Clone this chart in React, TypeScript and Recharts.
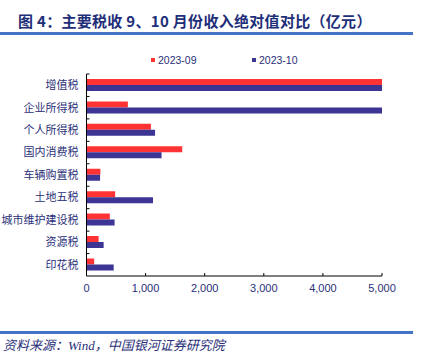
import { BarChart, Bar, XAxis, YAxis, Legend } from "recharts"

// Tax categories, top to bottom as in the figure
const CATEGORIES = [
  "增值税",
  "企业所得税",
  "个人所得税",
  "国内消费税",
  "车辆购置税",
  "土地五税",
  "城市维护建设税",
  "资源税",
  "印花税",
]

// 亿元 — VAT and CIT run past the 5,000 axis limit and are clipped
const SEP_2023 = [5100, 700, 1090, 1620, 235, 485, 395, 205, 130]
const OCT_2023 = [8800, 8500, 1160, 1270, 230, 1125, 475, 290, 460]

const X_TICKS = [0, 1000, 2000, 3000, 4000, 5000]

const RED = "#FF3333"
const BLUE = "#3D3594"
const NAVY = "#2A2F78"
const RULE = "#4472C4"

const W = 421
const H = 362
const PLOT_TOP = 74
const PLOT_BOTTOM = 276
const BAND = (PLOT_BOTTOM - PLOT_TOP) / CATEGORIES.length

const data = CATEGORIES.map((name, i) => ({
  name,
  sep: SEP_2023[i],
  oct: OCT_2023[i],
}))

const fmt = (v: number) => v.toLocaleString("en-US")

function YTick(props: any) {
  const { x, y, payload } = props
  return (
    <g>
      <line x1={x} x2={x + 3} y1={y - BAND / 2} y2={y - BAND / 2} stroke="#000" />
      <text
        x={x - 8}
        y={y}
        dy="0.35em"
        textAnchor="end"
        fontSize={11}
        fontFamily="'Noto Sans CJK SC', sans-serif"
        fill={NAVY}
      >
        {payload.value}
      </text>
    </g>
  )
}

function XTick(props: any) {
  const { x, y, payload } = props
  return (
    <g>
      <line x1={x} x2={x} y1={y} y2={y - 3} stroke="#000" />
      <text
        x={x}
        y={y + 12}
        dy="0.35em"
        textAnchor="middle"
        fontSize={11}
        fontFamily="'Liberation Sans', Arial, sans-serif"
        fill={NAVY}
      >
        {fmt(payload.value)}
      </text>
    </g>
  )
}

function LegendContent() {
  const items = [
    { label: "2023-09", color: RED, left: 151 },
    { label: "2023-10", color: BLUE, left: 252 },
  ]
  return (
    <div style={{ position: "relative", height: 16 }}>
      {items.map((it) => (
        <div
          key={it.label}
          style={{
            position: "absolute",
            left: it.left,
            top: 0,
            display: "flex",
            alignItems: "center",
            fontSize: 10.5,
            fontFamily: "'Liberation Sans', Arial, sans-serif",
            color: NAVY,
            lineHeight: "16px",
          }}
        >
          <span
            style={{
              width: 4,
              height: 4,
              background: it.color,
              display: "inline-block",
              marginRight: 3,
            }}
          />
          {it.label}
        </div>
      ))}
    </div>
  )
}

export default function App() {
  return (
    <div
      style={{
        position: "absolute",
        left: 0,
        top: 0,
        width: W,
        height: H,
        background: "#fff",
        overflow: "hidden",
      }}
    >
      <div
        style={{
          position: "absolute",
          left: 18,
          top: 11,
          fontSize: 15,
          fontWeight: 700,
          letterSpacing: 0.3,
          fontFamily: "'Noto Sans CJK SC', sans-serif",
          color: "#1E2E78",
          lineHeight: "20px",
          whiteSpace: "nowrap",
        }}
      >
        图 4：主要税收 9、10 月份收入绝对值对比（亿元）
      </div>
      <div
        style={{
          position: "absolute",
          left: 0,
          top: 32,
          width: 413,
          height: 2.5,
          background: RULE,
        }}
      />

      <div style={{ position: "absolute", left: 0, top: 0 }}>
        <BarChart
          width={W}
          height={H}
          data={data}
          layout="vertical"
          margin={{ top: PLOT_TOP, right: 39, bottom: 56, left: 6.5 }}
          barCategoryGap="22%"
          barGap={0}
        >
          <XAxis
            type="number"
            domain={[0, 5000]}
            ticks={X_TICKS}
            allowDataOverflow
            height={30}
            tickSize={0}
            tickMargin={0}
            tickLine={false}
            axisLine={{ stroke: "#000" }}
            tick={<XTick />}
            interval={0}
          />
          <YAxis
            type="category"
            dataKey="name"
            width={80}
            tickSize={0}
            tickMargin={0}
            tickLine={false}
            axisLine={{ stroke: "#000" }}
            tick={<YTick />}
            interval={0}
          />
          <Legend
            verticalAlign="middle"
            align="center"
            wrapperStyle={{ top: 52, left: 0, width: W }}
            content={<LegendContent />}
          />
          <Bar dataKey="sep" name="2023-09" fill={RED} isAnimationActive={false} />
          <Bar dataKey="oct" name="2023-10" fill={BLUE} isAnimationActive={false} />
        </BarChart>
      </div>

      <div
        style={{
          position: "absolute",
          left: 0,
          top: 331,
          width: 413,
          height: 2.5,
          background: RULE,
        }}
      />
      <div
        style={{
          position: "absolute",
          left: 3,
          top: 338,
          fontSize: 13,
          fontStyle: "italic",
          fontFamily: "'Liberation Serif', 'Noto Sans CJK SC', serif",
          color: NAVY,
          lineHeight: "16px",
          whiteSpace: "nowrap",
        }}
      >
        资料来源：Wind，中国银河证券研究院
      </div>
    </div>
  )
}
